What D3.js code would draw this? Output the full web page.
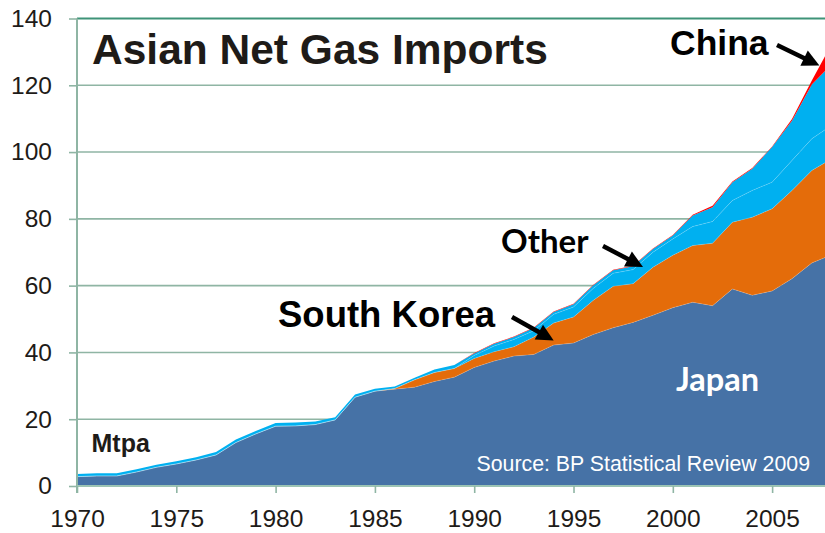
<!DOCTYPE html>
<html>
<head>
<meta charset="utf-8">
<script src="https://cdn.jsdelivr.net/npm/d3@7"></script>
<style>
  html, body { margin: 0; padding: 0; background: #fff; overflow: hidden; }
  svg { display: block; }
</style>
</head>
<body>
<svg id="chart"></svg>
<script>
// Asian net gas imports, Mtpa
const years = [1970, 1971, 1972, 1973, 1974, 1975, 1976, 1977, 1978, 1979,
               1980, 1981, 1982, 1983, 1984, 1985, 1986, 1987, 1988, 1989,
               1990, 1991, 1992, 1993, 1994, 1995, 1996, 1997, 1998, 1999,
               2000, 2001, 2002, 2003, 2004, 2005, 2006, 2007, 2008];

const japan = [2.8, 3.0, 3.0, 4.2, 5.6, 6.6, 7.8, 9.3, 13.0, 15.6,
               17.9, 18.0, 18.4, 19.8, 26.6, 28.4, 29.0, 29.6, 31.3, 32.6,
               35.5, 37.4, 38.9, 39.4, 42.2, 42.8, 45.4, 47.4, 49.0, 51.1,
               53.4, 55.0, 54.0, 59.0, 57.1, 58.4, 62.1, 66.8, 69.2];

const southKorea = [0, 0, 0, 0, 0, 0, 0, 0, 0, 0,
                    0, 0, 0, 0, 0, 0, 0.2, 2.2, 2.7, 2.6,
                    2.7, 2.8, 2.8, 5.2, 6.6, 7.8, 10.2, 12.4, 11.6, 14.4,
                    15.7, 17.0, 18.7, 20.0, 23.4, 24.6, 26.4, 27.7, 28.8];

const taiwan = [0, 0, 0, 0, 0, 0, 0, 0, 0, 0,
                0, 0, 0, 0, 0, 0, 0, 0, 0, 0,
                0.9, 1.7, 2.2, 1.9, 2.6, 3.0, 3.6, 3.9, 4.2, 4.5,
                4.9, 5.7, 6.5, 6.5, 8.0, 8.0, 9.0, 9.5, 10.0];

const otherAsia = [0.8, 0.8, 0.8, 0.8, 0.8, 0.8, 0.8, 0.9, 0.9, 0.9,
                   1.0, 1.0, 0.9, 0.8, 0.8, 0.7, 0.6, 0.6, 0.9, 1.0,
                   0.6, 0.7, 0.7, 0.8, 0.7, 0.8, 0.9, 0.9, 1.0, 1.0,
                   1.0, 3.3, 4.3, 5.5, 6.5, 10.5, 11.9, 16.2, 18.4];

const china = [0, 0, 0, 0, 0, 0, 0, 0, 0, 0,
               0, 0, 0, 0, 0, 0, 0, 0, 0, 0,
               0.15, 0.15, 0.15, 0.15, 0.15, 0.15, 0.15, 0.15, 0.15, 0.15,
               0.15, 0.2, 0.4, 0.2, 0.2, 0.2, 0.5, 1.2, 6.0];

const seriesKeys = ["Japan", "South Korea", "Taiwan", "Other", "China"];
const seriesColors = ["#4672a6", "#e46c0a", "#00b0f0", "#00b0f0", "#ff0000"];

const yTicks = [0, 20, 40, 60, 80, 100, 120, 140];
const xTicks = [1970, 1975, 1980, 1985, 1990, 1995, 2000, 2005];

const W = 825, H = 533;

const svg = d3.select("#chart")
    .attr("width", W)
    .attr("height", H);

// build table for the stack
const table = years.map((yr, i) => ({
    year: yr,
    "Japan": japan[i],
    "South Korea": southKorea[i],
    "Taiwan": taiwan[i],
    "Other": otherAsia[i],
    "China": china[i]
}));

const stacked = d3.stack().keys(seriesKeys)(table);

// scales (plot runs off the right edge, as in the source image)
const x = d3.scaleLinear().domain([1970, 2008]).range([77, 831.7]);
const y = d3.scaleLinear().domain([0, 140]).range([486, 18.5]);

const gridColor = "#8fb5a4";
const textColor = "#1e1b18";

// gridlines
svg.append("g")
    .selectAll("line")
    .data(yTicks.filter(d => d > 0))
    .join("line")
    .attr("x1", 77)
    .attr("x2", W)
    .attr("y1", d => y(d))
    .attr("y2", d => y(d))
    .attr("stroke", d => d === 140 ? "#3f9378" : gridColor)
    .attr("stroke-width", d => d === 140 ? 2 : 1.6);

// areas
const area = d3.area()
    .x(d => x(d.data.year))
    .y0(d => y(d[0]))
    .y1(d => y(d[1]));

svg.append("g")
    .selectAll("path")
    .data(stacked)
    .join("path")
    .attr("d", area)
    .attr("fill", (d, i) => seriesColors[i]);

// faint separators between layers
const topLine = d3.line()
    .x(d => x(d.data.year))
    .y(d => y(d[1]));

svg.append("g")
    .selectAll("path")
    .data(stacked.slice(0, 3))
    .join("path")
    .attr("d", topLine)
    .attr("fill", "none")
    .attr("stroke", "rgba(255,255,255,0.22)")
    .attr("stroke-width", 0.8);

// y axis
const yAxis = svg.append("g")
    .attr("transform", "translate(77,0)")
    .call(d3.axisLeft(y).tickValues(yTicks).tickSize(8).tickPadding(17));
yAxis.select(".domain").attr("stroke", gridColor).attr("stroke-width", 2)
    .attr("d", `M0,${y(0) + 7}V${y(140)}`);
yAxis.selectAll(".tick line").attr("stroke", gridColor).attr("stroke-width", 1.6);
yAxis.selectAll(".tick text")
    .attr("fill", textColor)
    .style("font-family", "'Liberation Sans', Arial, sans-serif")
    .style("font-size", "24.5px");

// x axis
const xAxis = svg.append("g")
    .attr("transform", `translate(0,${y(0)})`)
    .call(d3.axisBottom(x).tickValues(xTicks).tickFormat(d3.format("d")).tickSize(7).tickPadding(17));
xAxis.select(".domain").attr("stroke", "#9cc4b4").attr("stroke-width", 2)
    .attr("d", `M77,0H${W}`);
xAxis.selectAll(".tick line").attr("stroke", gridColor).attr("stroke-width", 1.6);
xAxis.selectAll(".tick text")
    .attr("fill", textColor)
    .style("font-family", "'Liberation Sans', Arial, sans-serif")
    .style("font-size", "24.5px");

// title and labels
const arial = "'Liberation Sans', Arial, sans-serif";
const calibri = "Lato, 'Open Sans', sans-serif";

svg.append("text")
    .attr("x", 92)
    .attr("y", 63.5)
    .attr("fill", textColor)
    .style("font-family", arial)
    .style("font-weight", "bold")
    .style("font-size", "42.5px")
    .text("Asian Net Gas Imports");

svg.append("text")
    .attr("x", 91.5)
    .attr("y", 451.5)
    .attr("fill", textColor)
    .style("font-family", arial)
    .style("font-weight", "bold")
    .style("font-size", "25px")
    .text("Mtpa");

svg.append("text")
    .attr("x", 810)
    .attr("y", 471)
    .attr("text-anchor", "end")
    .attr("fill", "#ffffff")
    .style("font-family", arial)
    .style("font-size", "21.3px")
    .text("Source: BP Statistical Review 2009");

svg.append("text")
    .attr("x", 676)
    .attr("y", 391)
    .attr("fill", "#ffffff")
    .style("font-family", calibri)
    .style("font-weight", "bold")
    .style("font-size", "32.5px")
    .text("Japan");

const labels = [
    {text: "China", x: 670, y: 55, font: arial, size: 35.5, from: [777, 45], tip: [2007.38, 125.9]},
    {text: "Other", x: 501, y: 252.5, font: calibri, size: 33, from: [603, 246], tip: [1998.5, 65.6]},
    {text: "South Korea", x: 278, y: 326.5, font: arial, size: 36.5, from: [512, 317], tip: [1994.0, 43.6]}
];

labels.forEach(l => {
    svg.append("text")
        .attr("x", l.x)
        .attr("y", l.y)
        .attr("fill", "#000")
        .style("font-family", l.font)
        .style("font-weight", "bold")
        .style("font-size", l.size + "px")
        .text(l.text);

    // arrow
    const tx = x(l.tip[0]), ty = y(l.tip[1]);
    const [fx, fy] = l.from;
    const ang = Math.atan2(ty - fy, tx - fx);
    const headLen = 17, headW = 8.5;
    const bx = tx - headLen * Math.cos(ang), by = ty - headLen * Math.sin(ang);
    svg.append("line")
        .attr("x1", fx).attr("y1", fy)
        .attr("x2", bx + 2 * Math.cos(ang)).attr("y2", by + 2 * Math.sin(ang))
        .attr("stroke", "#000")
        .attr("stroke-width", 4.5);
    const px = -Math.sin(ang), py = Math.cos(ang);
    svg.append("path")
        .attr("d", `M${tx},${ty}L${bx + px * headW},${by + py * headW}L${bx - px * headW},${by - py * headW}Z`)
        .attr("fill", "#000");
});
</script>
</body>
</html>
